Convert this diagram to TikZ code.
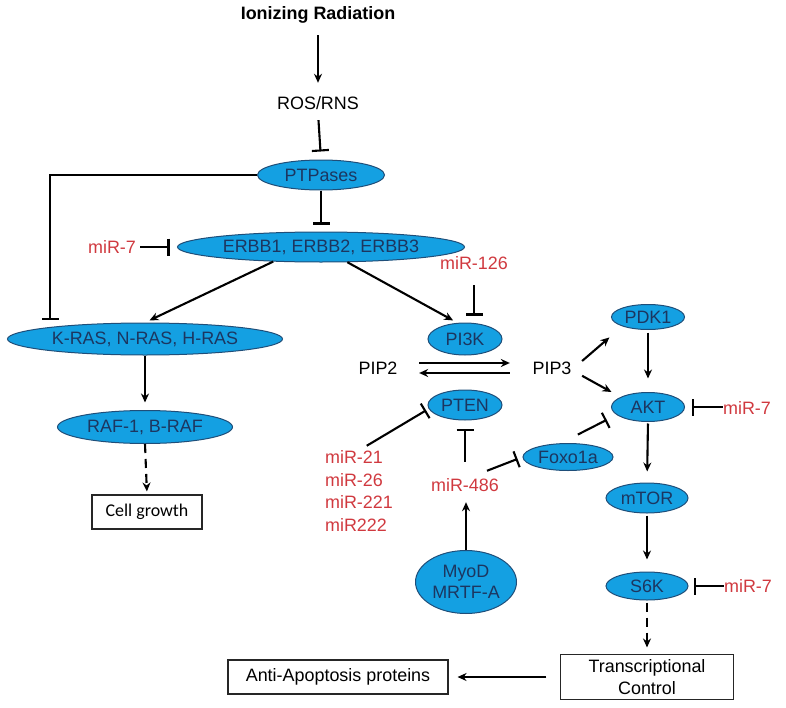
\documentclass[tikz,border=0pt]{standalone}
\usepackage{fontspec}
\setmainfont{Liberation Sans}
\newfontfamily\calfont{Carlito}
\usetikzlibrary{shapes.geometric}
\usetikzlibrary{arrows.meta}

\begin{document}
\begin{tikzpicture}[x=1bp,y=-1bp,font=\fontsize{18}{21.7}\selectfont,
    txt/.style={inner sep=0, text height=12bp, text depth=3bp},
    mir/.style={txt, text=mirred},
    bub/.style={ellipse, draw=bubline, fill=bubfill, text=bubtext, inner sep=0, line width=1bp},
    rbox/.style={draw=black!85, line width=1.1bp, inner sep=0},
    act/.style={-{Stealth[length=9bp,width=8bp]}, line width=2.1bp},
    inh/.style={-{Bar[width=17bp]}, line width=2.1bp}]
      \definecolor{bubfill}{HTML}{14A0E2}
      \definecolor{bubline}{HTML}{1F4E79}
      \definecolor{bubtext}{HTML}{1C3660}
      \definecolor{mirred}{HTML}{D0393F}
      \useasboundingbox (0,0) rectangle (786,708);
      % left branch
      \node[txt, font=\fontsize{18}{21.7}\selectfont\bfseries] (ion) at (318,15) {Ionizing Radiation};
      \node[txt] (ros) at (318,105) {ROS/RNS};
      \node[bub, minimum width=127bp, minimum height=30bp] (ptp) at (321,175) {PTPases};
      \node[bub, minimum width=287bp, minimum height=30bp] (erbb) at (321,247) {ERBB1, ERBB2, ERBB3};
      \node[mir] (mir7a) at (112,249) {miR-7};
      \node[bub, minimum width=275bp, minimum height=32bp] (ras) at (145,339) {K-RAS, N-RAS, H-RAS};
      \node[bub, minimum width=175bp, minimum height=33bp] (raf) at (145,427) {RAF-1, B-RAF};
      \node[rbox, minimum width=110bp, minimum height=34bp, font=\fontsize{18}{21.7}\calfont] (cell) at (147,512) {Cell growth};
      \coordinate (rasbar) at (50,320);
      % PI3K / AKT branch
      \node[mir] (mir126) at (474,265) {miR-126};
      \node[bub, minimum width=74bp, minimum height=32bp] (pik) at (465,339) {PI3K};
      \node[txt] (pip2) at (378,370) {PIP2};
      \node[txt] (pip3) at (552,370) {PIP3};
      \node[bub, minimum width=74bp, minimum height=30bp] (pten) at (465,405) {PTEN};
      \node[bub, minimum width=73bp, minimum height=25bp] (pdk) at (648,317) {PDK1};
      \node[bub, minimum width=73bp, minimum height=29bp] (akt) at (648,407) {AKT};
      \node[mir] (mir7b) at (747,410) {miR-7};
      \node[bub, minimum width=90bp, minimum height=27bp] (foxo) at (568,457) {Foxo1a};
      \node[mir] (mir486) at (465,487) {miR-486};
      \node[inner sep=0, text=mirred, align=left, font=\fontsize{18}{22.7}\selectfont] (mirs) at (359,491) {miR-21\\miR-26\\miR-221\\miR222};
      \node[bub, minimum width=101bp, minimum height=63bp, align=center, font=\fontsize{18}{21}\selectfont] (myod) at (466,582) {MyoD\\MRTF-A};
      \node[bub, minimum width=82bp, minimum height=30bp] (mtor) at (647,498) {mTOR};
      \node[bub, minimum width=82bp, minimum height=28bp] (s6k) at (647,586) {S6K};
      \node[mir] (mir7c) at (748,588) {miR-7};
      \node[rbox, minimum width=173bp, minimum height=45bp, align=center] (trans) at (647,677) {Transcriptional\\Control};
      \node[rbox, minimum width=220bp, minimum height=34bp] (anti) at (338,677) {Anti-Apoptosis proteins};
      % connectors
      \draw[act, shorten <=12.5bp, shorten >=14.5bp] (ion.south) -- (ros.north);
      \draw[inh, shorten <=7.5bp, shorten >=8bp] (ros.south) -- (ptp.north);
      \draw[inh, shorten >=7bp] (ptp.south) -- (erbb.north);
      \draw[inh] (ptp.west) -| (rasbar);
      \draw[inh, shorten <=4bp, shorten >=7.5bp] (mir7a.east |- erbb.west) -- (erbb.west);
      \draw[act, shorten >=5bp] (erbb.197) -- (ras.north);
      \draw[act, shorten >=5bp] (erbb.330) -- (pik.115);
      \draw[inh, shorten <=12.5bp, shorten >=7bp] (mir126.south) -- (mir126.south |- pik.north);
      \draw[act] (ras.south) -- ++(0,47);
      \draw[act, dashed, dash pattern=on 9bp off 6bp, shorten >=3bp] (raf.south) -- (cell.north);
      \draw[act, shorten <=21.5bp, shorten >=22.5bp] ([yshift=7bp]pip2.east) -- ([yshift=7bp]pip3.west);
      \draw[act, shorten <=22.5bp, shorten >=21.5bp] ([yshift=-3bp]pip3.west) -- ([yshift=-3bp]pip2.east);
      \draw[act, shorten <=13.8bp, shorten >=17bp] (pip3.east) -- (pdk.200);
      \draw[act, shorten <=12bp, shorten >=10.3bp] (pip3.east) -- (akt.160);
      \draw[act, shorten <=2.5bp, shorten >=13.5bp] (pdk.south) -- (akt.north);
      \draw[inh, shorten >=6.5bp] (mir7b.west |- akt.east) -- (akt.east);
      \draw[inh, shorten <=19bp, shorten >=11bp] (foxo.117) -- (akt.194);
      \draw[inh, shorten <=17.5bp, shorten >=8bp] (mir486.north) -- (pten.south);
      \draw[inh, shorten <=23.6bp, shorten >=5.3bp] (mir486.north) -- (foxo.west);
      \draw[inh, shorten <=9bp, shorten >=3bp] (mirs.north) -- (pten.186);
      \draw[act, shorten >=7.5bp] (myod.north) -- (myod.north |- mir486.south);
      \draw[act, shorten <=1.5bp, shorten >=11bp] (akt.south) -- (mtor.north);
      \draw[act, shorten <=2bp, shorten >=12bp] (mtor.south) -- (s6k.north);
      \draw[inh, shorten >=5bp] (mir7c.west |- s6k.east) -- (s6k.east);
      \draw[act, dashed, dash pattern=on 9bp off 6bp, shorten <=2bp, shorten >=6.5bp] (s6k.south) -- (trans.north);
      \draw[act, shorten <=13.5bp, shorten >=9bp] (trans.west) -- (anti.east);
\end{tikzpicture}
\end{document}
